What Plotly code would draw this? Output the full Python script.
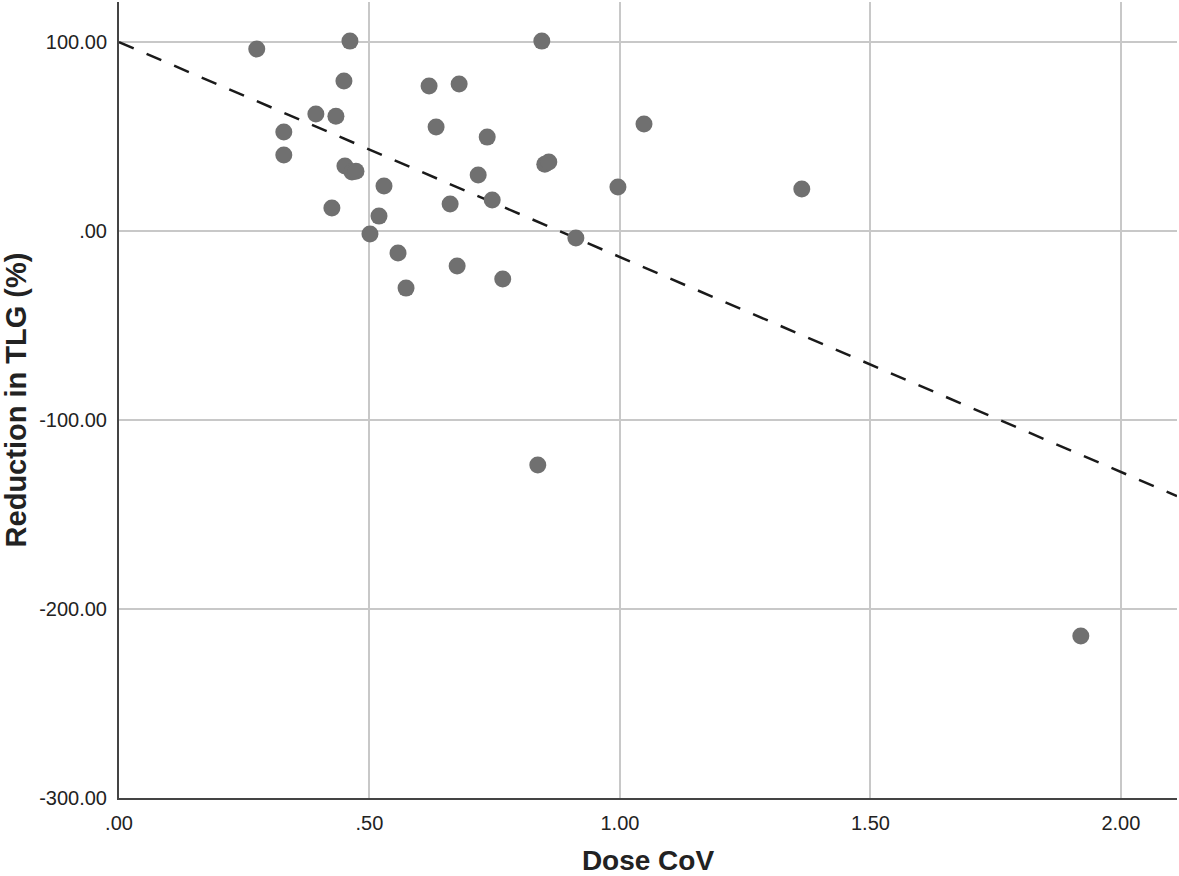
import plotly.graph_objects as go

dose_cov = [0.275, 0.461, 0.844, 0.449, 0.619, 0.679, 0.393, 0.433, 0.329, 0.329,
            0.633, 0.735, 1.048, 0.451, 0.465, 0.473, 0.850, 0.858, 0.717, 0.529,
            0.996, 1.363, 0.425, 0.661, 0.745, 0.519, 0.501, 0.912, 0.557, 0.675,
            0.766, 0.573, 0.836, 1.920]
reduction_tlg = [96.3, 100.5, 100.5, 79.4, 76.7, 77.8, 61.9, 60.8, 52.4, 40.2,
                 55.0, 49.7, 56.6, 34.4, 31.2, 31.7, 35.4, 36.5, 29.6, 23.8,
                 23.3, 22.2, 12.2, 14.3, 16.4, 7.9, -1.6, -3.7, -11.6, -18.5,
                 -25.4, -30.2, -123.8, -214.3]

fit_x = [0.0, 2.112]
fit_intercept = 100.0
fit_slope = -113.75
fit_y = [fit_intercept + fit_slope * v for v in fit_x]

x_ticks = [0, 0.5, 1.0, 1.5, 2.0]
x_ticktext = [".00", ".50", "1.00", "1.50", "2.00"]
y_ticks = [-300, -200, -100, 0, 100]
y_ticktext = ["-300.00", "-200.00", "-100.00", ".00", "100.00"]

fig = go.Figure()
fig.add_trace(go.Scatter(
    x=fit_x, y=fit_y, mode="lines",
    line=dict(color="#1a1a1a", width=2.5, dash="16px,14px"),
    hoverinfo="skip", showlegend=False))
fig.add_trace(go.Scatter(
    x=dose_cov, y=reduction_tlg, mode="markers",
    marker=dict(color="#707070", size=17, line=dict(width=0)),
    showlegend=False))

fig.update_layout(
    width=1179, height=876,
    margin=dict(l=119, r=2, t=2, b=78),
    paper_bgcolor="white", plot_bgcolor="white",
    font=dict(family="Liberation Sans, Arial, sans-serif", color="#222222", size=20),
)
fig.update_xaxes(
    range=[0, 2.112], tickvals=x_ticks, ticktext=x_ticktext,
    showgrid=True, gridcolor="#c8c8c8", gridwidth=2,
    showline=True, linecolor="#444444", linewidth=2,
    zeroline=False, ticks="", ticklen=0, ticklabelstandoff=6,
    tickfont=dict(size=20),
    title=dict(text="<b>Dose CoV</b>", font=dict(size=28, color="#222222"), standoff=20),
)
fig.update_yaxes(
    range=[-300, 121.2], tickvals=y_ticks, ticktext=y_ticktext,
    showgrid=True, gridcolor="#c8c8c8", gridwidth=2,
    showline=True, linecolor="#444444", linewidth=2,
    zeroline=False, ticks="", ticklen=0, ticklabelstandoff=6,
    tickfont=dict(size=20),
    title=dict(text="<b>Reduction in TLG (%)</b>", font=dict(size=29, color="#222222"), standoff=6),
)

fig.write_html("out.html", config={"displayModeBar": False},
               post_script="document.body.style.margin='0';")
